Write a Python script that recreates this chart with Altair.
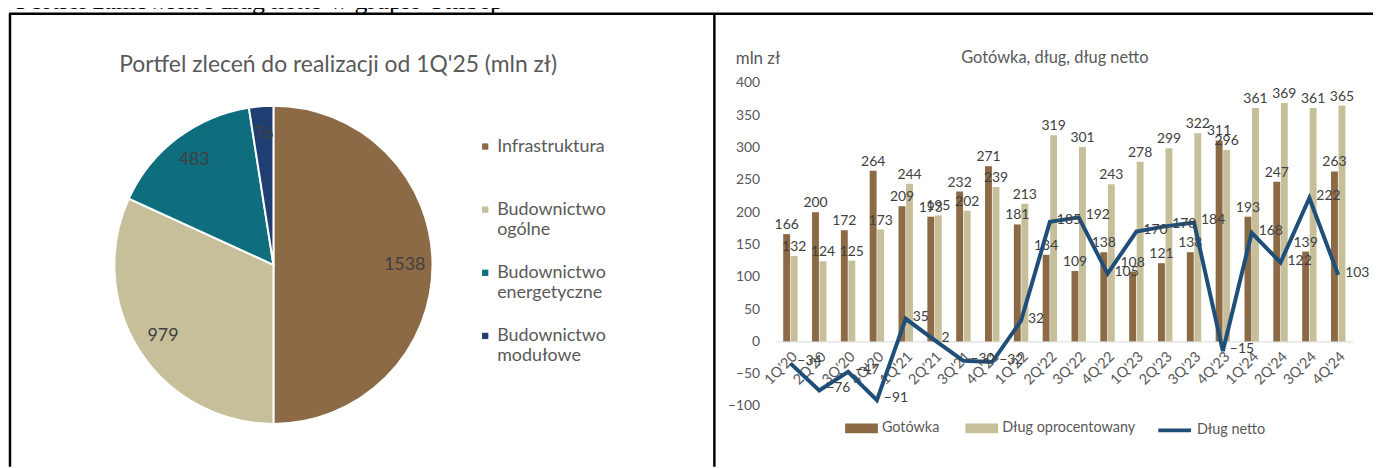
import altair as alt
import pandas as pd

# ---------------- data ----------------
quarters = ["1Q'20", "2Q'20", "3Q'20", "4Q'20", "1Q'21", "2Q'21", "3Q'21", "4Q'21",
            "1Q'22", "2Q'22", "3Q'22", "4Q'22", "1Q'23", "2Q'23", "3Q'23", "4Q'23",
            "1Q'24", "2Q'24", "3Q'24", "4Q'24"]
cash = [166, 200, 172, 264, 209, 193, 232, 271, 181, 134, 109, 138, 108, 121, 138, 311,
        193, 247, 139, 263]
debt = [132, 124, 125, 173, 244, 195, 202, 239, 213, 319, 301, 243, 278, 299, 322, 296,
        361, 369, 361, 365]
net = [-34, -76, -47, -91, 35, 2, -30, -32, 32, 185, 192, 105, 170, 178, 184, -15,
       168, 122, 222, 103]
y_ticks = [-100, -50, 0, 50, 100, 150, 200, 250, 300, 350, 400]

pie_cats = ["Infrastruktura", "Budownictwo ogólne", "Budownictwo energetyczne",
            "Budownictwo modułowe"]
pie_vals = [1538, 979, 483, 76]

series_names = ["Gotówka", "Dług oprocentowany"]
bar_colors = ["#8C6A45", "#C7BF9A"]
pie_colors = ["#8C6A45", "#C7BF9A", "#0F6E7E", "#1F3F72"]
line_color = "#1F4E79"

FONT = "Lato"
GRAY = "#595959"
DARK = "#404040"

W, H = 1373, 460

bars_df = pd.DataFrame({
    "q": quarters * 2,
    "series": [series_names[0]] * len(quarters) + [series_names[1]] * len(quarters),
    "value": cash + debt,
})
net_df = pd.DataFrame({"q": quarters, "series": ["Dług netto"] * len(quarters), "value": net})
pie_df = pd.DataFrame({"cat": pie_cats, "value": pie_vals, "idx": list(range(len(pie_cats)))})
one = pd.DataFrame({"a": [0]})

# ---------------- scales ----------------
xscale = alt.Scale(domain=quarters, range=[772.5, 1352.5], paddingInner=0.5, paddingOuter=0.25)
yscale = alt.Scale(domain=[-100, 400], range=[399, 74], nice=False, zero=False)
xoff = alt.XOffset("series:N", scale=alt.Scale(domain=series_names, paddingInner=0.08))

x_axis = alt.Axis(orient="bottom", offset=-126, labelAngle=-45, ticks=False,
                  domainColor="#D9D9D9", domainWidth=1, labelPadding=8, title=None,
                  labelFont=FONT, labelFontSize=14.5, labelColor=GRAY, grid=False)
y_axis = alt.Axis(orient="left", offset=-760, values=y_ticks, domain=False, ticks=False,
                  grid=False, labelPadding=4, title=None, labelFont=FONT,
                  labelFontSize=14, labelColor=GRAY)

bars = alt.Chart(bars_df).mark_bar().encode(
    x=alt.X("q:N", scale=xscale, axis=x_axis, sort=quarters),
    xOffset=xoff,
    y=alt.Y("value:Q", scale=yscale, axis=y_axis),
    color=alt.Color("series:N", scale=alt.Scale(domain=series_names, range=bar_colors),
                    legend=alt.Legend(orient="none", legendX=842, legendY=405,
                                      direction="horizontal", title=None,
                                      symbolType="M-1,-0.3H1V0.3H-1Z", symbolSize=1089,
                                      symbolStrokeWidth=0, labelFont=FONT,
                                      labelFontSize=14.5, labelColor=GRAY, labelOffset=4,
                                      columnPadding=26)),
)

bar_labels = alt.Chart(bars_df).mark_text(baseline="bottom", dy=-2, font=FONT,
                                          fontSize=14, color=DARK).encode(
    x=alt.X("q:N", scale=xscale, sort=quarters),
    xOffset=xoff,
    y=alt.Y("value:Q", scale=yscale),
    text="value:Q",
)

line = alt.Chart(net_df).mark_line(strokeWidth=4).encode(
    x=alt.X("q:N", scale=xscale, sort=quarters),
    y=alt.Y("value:Q", scale=yscale),
    stroke=alt.Stroke("series:N", scale=alt.Scale(domain=["Dług netto"], range=[line_color]),
                      legend=alt.Legend(orient="none", legendX=1155, legendY=405,
                                        title=None, symbolType="stroke", symbolSize=1089,
                                        symbolStrokeWidth=4, labelFont=FONT,
                                        labelFontSize=14.5, labelColor=GRAY, labelOffset=4)),
)

line_labels = alt.Chart(net_df).mark_text(align="left", baseline="middle", dx=7, dy=-2,
                                          font=FONT, fontSize=14, color=DARK).encode(
    x=alt.X("q:N", scale=xscale, sort=quarters),
    y=alt.Y("value:Q", scale=yscale),
    text="value:Q",
)

# ---------------- pie ----------------
CX, CY, R = 267, 257, 160
pie = alt.Chart(pie_df).mark_arc(outerRadius=R, stroke="white", strokeWidth=2).encode(
    theta=alt.Theta("value:Q", stack=True),
    order=alt.Order("idx:Q"),
    color=alt.Color("cat:N", scale=alt.Scale(domain=pie_cats, range=pie_colors),
                    legend=alt.Legend(orient="none", legendX=471, legendY=129, title=None,
                                      symbolType="square", symbolSize=40,
                                      symbolStrokeWidth=0, labelFont=FONT,
                                      labelFontSize=18, labelColor=GRAY, labelOffset=3,
                                      rowPadding=25.5,
                                      labelExpr="indexof(datum.label, ' ') > 0 ? split(datum.label, ' ') : [datum.label, '']")),
    x=alt.value(CX),
    y=alt.value(CY),
)
pie_labels = alt.Chart(pie_df).mark_text(radius=132, font=FONT, fontSize=18,
                                         color=DARK).encode(
    theta=alt.Theta("value:Q", stack=True),
    order=alt.Order("idx:Q"),
    text="value:Q",
    x=alt.value(CX),
    y=alt.value(CY),
)

# ---------------- texts & frame ----------------
def label(txt, x, y, size, color=GRAY, align="center", font=FONT, baseline="middle"):
    return alt.Chart(one).mark_text(text=txt, align=align, baseline=baseline, font=font,
                                    fontSize=size, color=color).encode(
        x=alt.value(x), y=alt.value(y))

texts = [
    label("Portfel zamówień i dług netto w grupie Unibep", 8, 0, 26, color="black",
          align="left", font="Liberation Serif", baseline="alphabetic"),
    label("Portfel zleceń do realizacji od 1Q'25 (mln zł)", 332, 56, 23),
    label("Gotówka, dług, dług netto", 1053, 49, 16.5),
    label("mln zł", 732, 50, 17, align="left"),
]

frame = [
    alt.Chart(one).mark_rule(color="black", strokeWidth=2.5).encode(
        x=alt.value(1), x2=alt.value(W), y=alt.value(4.5)),
    alt.Chart(one).mark_rule(color="black", strokeWidth=2.5).encode(
        x=alt.value(2), y=alt.value(4.5), y2=alt.value(H)),
    alt.Chart(one).mark_rule(color="black", strokeWidth=2.5).encode(
        x=alt.value(710.5), y=alt.value(4.5), y2=alt.value(H)),
]

chart = alt.layer(
    pie, pie_labels, bars, bar_labels, line, line_labels, *texts, *frame
).resolve_scale(color="independent").properties(
    width=W, height=H, autosize=alt.AutoSizeParams(type="none"), padding=0,
    background="white",
).configure_view(stroke=None)

chart.save("out.html", embed_options={"renderer": "svg", "actions": False})
